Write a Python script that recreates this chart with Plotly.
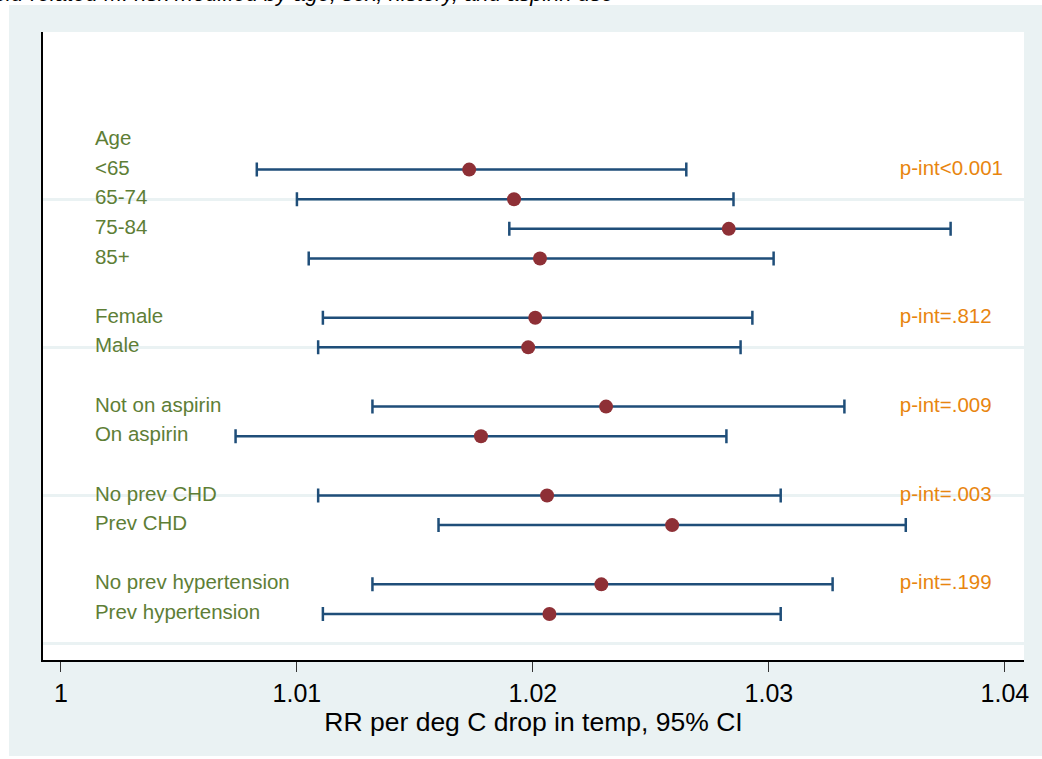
import plotly.graph_objects as go

# ---- data ----
labels = ["Age", "<65", "65-74", "75-84", "85+",
          "Female", "Male",
          "Not on aspirin", "On aspirin",
          "No prev CHD", "Prev CHD",
          "No prev hypertension", "Prev hypertension"]
label_rows = [1, 2, 3, 4, 5, 7, 8, 10, 11, 13, 14, 16, 17]

est_rows = [2, 3, 4, 5, 7, 8, 10, 11, 13, 14, 16, 17]
est = [1.0173, 1.0192, 1.0283, 1.0203, 1.0201, 1.0198, 1.0231, 1.0178, 1.0206, 1.0259, 1.0229, 1.0207]
lo = [1.0083, 1.0100, 1.0190, 1.0105, 1.0111, 1.0109, 1.0132, 1.0074, 1.0109, 1.0160, 1.0132, 1.0111]
hi = [1.0265, 1.0285, 1.0377, 1.0302, 1.0293, 1.0288, 1.0332, 1.0282, 1.0305, 1.0358, 1.0327, 1.0305]

p_text = ["p-int<0.001", "p-int=.812", "p-int=.009", "p-int=.003", "p-int=.199"]
p_rows = [2, 7, 10, 13, 16]

x_ticks = [1, 1.01, 1.02, 1.03, 1.04]
x_ticktext = ["1", "1.01", "1.02", "1.03", "1.04"]
grid_rows = [3, 8, 13, 18]

title_text = "Figure 2. Cold-related MI risk modified by age, sex, history, and aspirin use"
x_title = "RR per deg C drop in temp, 95% CI"

# ---- styles ----
FONT = "Liberation Sans, Arial, Helvetica, sans-serif"
GREEN = "#5E7E36"
ORANGE = "#E8850F"
NAVY = "#1F4E79"
RED = "#8E3036"
BG = "#EAF2F3"
LABEL_X = 1.00144
P_X = 1.03555

fig = go.Figure()

fig.add_trace(go.Scatter(
    x=est, y=est_rows, mode="markers",
    marker=dict(color=RED, size=14, line=dict(width=0)),
    error_x=dict(type="data", symmetric=False,
                 array=[h - e for h, e in zip(hi, est)],
                 arrayminus=[e - l for e, l in zip(est, lo)],
                 color=NAVY, thickness=2.5, width=7),
    hoverinfo="skip", showlegend=False,
))

fig.add_trace(go.Scatter(
    x=[LABEL_X] * len(labels), y=label_rows, mode="text",
    text=labels, textposition="middle right",
    textfont=dict(family=FONT, size=20.5, color=GREEN),
    hoverinfo="skip", showlegend=False,
))

fig.add_trace(go.Scatter(
    x=[P_X] * len(p_text), y=p_rows, mode="text",
    text=p_text, textposition="middle right",
    textfont=dict(family=FONT, size=20.5, color=ORANGE),
    hoverinfo="skip", showlegend=False,
))

W, H = 1042, 759
L, R, T, B = 43, 18, 32, 99
pw, ph = W - L - R, H - T - B

def px_x(p):
    return (p - L) / pw

def px_y(p):
    return (H - B - p) / ph

shapes = [
    # white strips around the light outer background
    dict(type="rect", xref="paper", yref="paper", layer="below",
         x0=px_x(0), x1=px_x(W), y0=px_y(5), y1=px_y(0),
         fillcolor="white", line=dict(width=0)),
    dict(type="rect", xref="paper", yref="paper", layer="below",
         x0=px_x(0), x1=px_x(9), y0=px_y(H), y1=px_y(0),
         fillcolor="white", line=dict(width=0)),
    dict(type="rect", xref="paper", yref="paper", layer="below",
         x0=px_x(0), x1=px_x(W), y0=px_y(H), y1=px_y(756),
         fillcolor="white", line=dict(width=0)),
]

fig.update_layout(
    width=W, height=H,
    margin=dict(l=L, r=R, t=T, b=B, pad=0),
    paper_bgcolor=BG, plot_bgcolor="white",
    shapes=shapes,
    font=dict(family=FONT, color="black"),
    xaxis=dict(
        range=[0.99924, 1.04081],
        tickvals=x_ticks, ticktext=x_ticktext,
        ticks="outside", ticklen=10, tickwidth=1, tickcolor="#333333",
        tickfont=dict(family=FONT, size=25, color="black"),
        showgrid=False, zeroline=False,
        showline=True, linecolor="black", linewidth=1.5,
        title=dict(text=x_title, font=dict(family=FONT, size=26.5, color="black"), standoff=0),
        fixedrange=True,
    ),
    yaxis=dict(
        range=[18.553, -2.645],
        tickvals=grid_rows, showticklabels=False, ticks="",
        showgrid=True, gridcolor=BG, gridwidth=2.5,
        zeroline=False, showline=True, linecolor="black", linewidth=1.5,
        fixedrange=True,
    ),
    annotations=[dict(
        text=title_text, xref="paper", yref="paper",
        x=px_x(615), y=px_y(7.5), xanchor="right", yanchor="bottom",
        showarrow=False,
        font=dict(family=FONT, size=22, color="black", style="italic"),
    )],
)

fig.write_html("out.html",
               config={"displayModeBar": False},
               post_script="document.body.style.margin='0';document.body.style.overflow='hidden';")
